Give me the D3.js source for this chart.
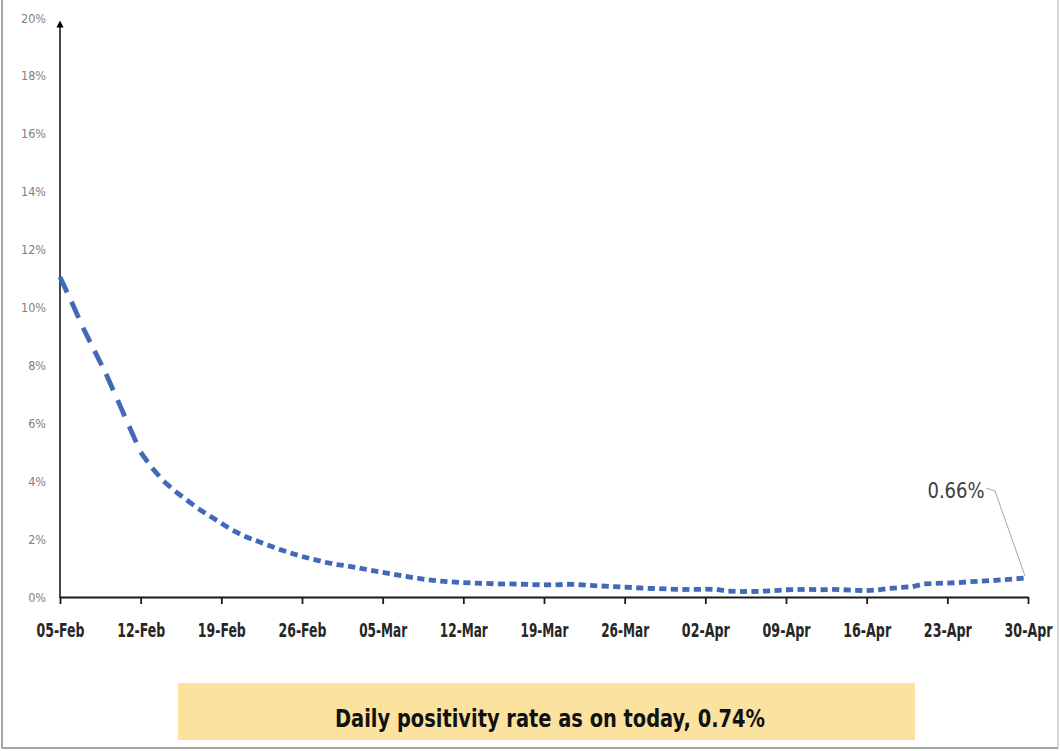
<!DOCTYPE html>
<html>
<head>
<meta charset="utf-8">
<script src="https://cdn.jsdelivr.net/npm/d3@7"></script>
<style>
  html, body { margin: 0; padding: 0; background: #ffffff; }
  svg { display: block; }
  .narrow { font-family: "Liberation Sans Narrow", "DejaVu Sans Condensed", "Open Sans", sans-serif; }
</style>
</head>
<body>
<svg id="chart" width="1060" height="751"></svg>
<script>
// ---- Data ----
const startDate = "2022-02-05";
// Daily positivity rate (%), one value per day from 05-Feb to 30-Apr
const positivity = [
  11.05, 10.2, 9.3, 8.5, 7.7, 6.8, 5.9, 5.0, 4.45, 4.0,
  3.65, 3.35, 3.05, 2.8, 2.55, 2.3, 2.1, 1.95, 1.8, 1.65,
  1.52, 1.4, 1.3, 1.2, 1.12, 1.07, 1.0, 0.92, 0.85, 0.78,
  0.71, 0.65, 0.59, 0.55, 0.52, 0.5, 0.48, 0.47, 0.45, 0.45,
  0.44, 0.43, 0.42, 0.42, 0.44, 0.43, 0.4, 0.38, 0.36, 0.34,
  0.32, 0.3, 0.29, 0.27, 0.26, 0.26, 0.27, 0.26, 0.2, 0.19,
  0.19, 0.2, 0.22, 0.25, 0.26, 0.26, 0.25, 0.26, 0.25, 0.23,
  0.22, 0.25, 0.3, 0.33, 0.36, 0.45, 0.47, 0.48, 0.5, 0.53,
  0.55, 0.57, 0.6, 0.63, 0.66
];
const xTickLabels = ["05-Feb","12-Feb","19-Feb","26-Feb","05-Mar","12-Mar","19-Mar","26-Mar","02-Apr","09-Apr","16-Apr","23-Apr","30-Apr"];
const yTickValues = [0, 2, 4, 6, 8, 10, 12, 14, 16, 18, 20];
const lastLabel = "0.66%";
const bannerText = "Daily positivity rate as on today, 0.74%";

// ---- Setup ----
const svg = d3.select("#chart");
const parseDay = d3.timeParse("%Y-%m-%d");
const start = parseDay(startDate);
const series = positivity.map((v, i) => ({ date: d3.timeDay.offset(start, i), value: v }));
const parseTick = d3.timeParse("%d-%b-%Y");
const tickDates = xTickLabels.map(s => parseTick(s + "-2022"));

const x = d3.scaleTime()
  .domain([series[0].date, series[series.length - 1].date])
  .range([60, 1028]);
const y = d3.scaleLinear().domain([0, 20]).range([597, 18]);

// fit a text horizontally to a given width by scaling about its anchor
function fitWidth(sel, w) {
  sel.each(function () {
    const len = this.getComputedTextLength();
    if (len > 0) d3.select(this).attr("transform", `scale(${w / len},1)`);
  });
}

// outer frame
svg.append("line").attr("x1", 2).attr("x2", 2).attr("y1", 0).attr("y2", 748).attr("stroke", "#8a8a8a").attr("stroke-width", 1.5);
svg.append("line").attr("x1", 2).attr("x2", 1058).attr("y1", 748).attr("y2", 748).attr("stroke", "#8a8a8a").attr("stroke-width", 1.5);
svg.append("line").attr("x1", 1058).attr("x2", 1058).attr("y1", 0).attr("y2", 748).attr("stroke", "#b0b0b0").attr("stroke-width", 1);

// y-axis labels
const yAxis = d3.axisLeft(y).tickValues(yTickValues).tickFormat(d => d + "%").tickSize(0).tickPadding(14);
const gy = svg.append("g").attr("transform", "translate(60,0)").call(yAxis);
gy.select(".domain").remove();
gy.selectAll("text").attr("class", "narrow").attr("font-size", 12.5).attr("fill", "#7f7f7f");

// y-axis line with arrow
svg.append("defs").append("marker")
  .attr("id", "arrow").attr("viewBox", "0 0 10 10").attr("refX", 5).attr("refY", 5)
  .attr("markerWidth", 4.5).attr("markerHeight", 5).attr("orient", "auto")
  .append("path").attr("d", "M0,0 L10,5 L0,10 Z").attr("fill", "#000");
svg.append("line").attr("x1", 60).attr("x2", 60).attr("y1", 598).attr("y2", 24)
  .attr("stroke", "#1a1a1a").attr("stroke-width", 1.6).attr("marker-end", "url(#arrow)");

// x axis
const fmt = d3.timeFormat("%d-%b");
const xAxis = d3.axisBottom(x).tickValues(tickDates).tickFormat(fmt).tickSize(7).tickSizeOuter(0).tickPadding(20);
const gx = svg.append("g").attr("transform", "translate(0,597)").call(xAxis);
gx.select(".domain").attr("stroke", "#1a1a1a").attr("stroke-width", 2.2);
gx.selectAll(".tick line").attr("stroke", "#1a1a1a").attr("stroke-width", 1.8);
const xt = gx.selectAll("text").attr("class", "narrow").attr("font-size", 19).attr("font-weight", "bold").attr("fill", "#262626");
fitWidth(xt, 48);

// line: dash pattern restarting on every daily segment
const segs = d3.pairs(series);
svg.append("g").selectAll("line").data(segs).join("line")
  .attr("x1", d => x(d[0].date)).attr("y1", d => y(d[0].value))
  .attr("x2", d => x(d[1].date)).attr("y2", d => y(d[1].value))
  .attr("stroke", "#4169b7").attr("stroke-width", 4.8).attr("stroke-linecap", "butt")
  .attr("stroke-dasharray", d => {
    const L = Math.hypot(x(d[1].date) - x(d[0].date), y(d[1].value) - y(d[0].value));
    return (L * 0.62) + " " + (L * 0.38);
  });

// last-value callout
const last = series[series.length - 1];
const lx = x(last.date), ly = y(last.value);
svg.append("path")
  .attr("d", `M${986},${488} L${995},${491} L${lx - 3},${ly - 2}`)
  .attr("fill", "none").attr("stroke", "#a6a6a6").attr("stroke-width", 1);
svg.append("text").attr("class", "narrow")
  .attr("x", 956).attr("y", 498).attr("text-anchor", "middle")
  .attr("font-size", 21).attr("fill", "#404040")
  .attr("textLength", 57).attr("lengthAdjust", "spacingAndGlyphs").text(lastLabel);

// banner
svg.append("rect").attr("x", 178).attr("y", 683).attr("width", 737).attr("height", 57).attr("fill", "#fbe29f");
svg.append("text").attr("class", "narrow")
  .attr("x", 550).attr("y", 727).attr("text-anchor", "middle")
  .attr("font-size", 25).attr("font-weight", "bold").attr("fill", "#111")
  .attr("textLength", 430).attr("lengthAdjust", "spacingAndGlyphs").text(bannerText);
</script>
</body>
</html>
